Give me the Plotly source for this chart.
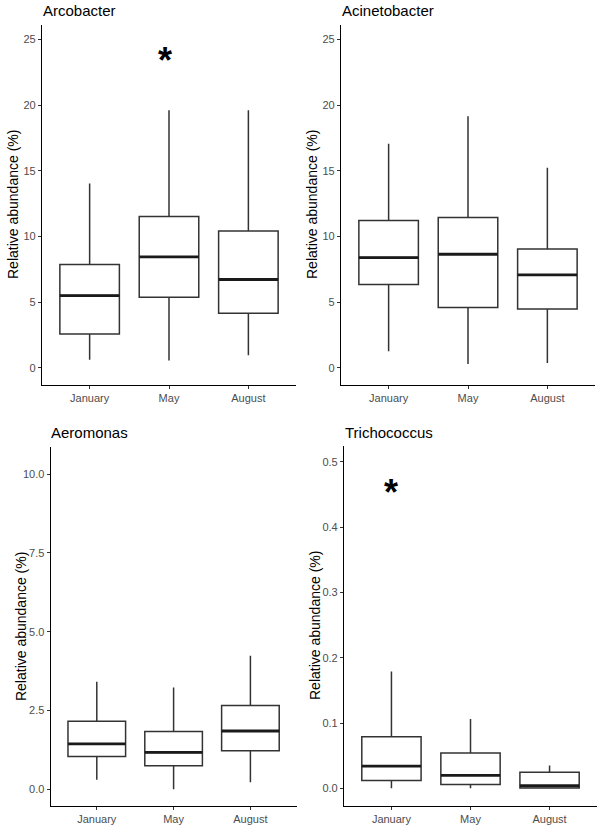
import plotly.graph_objects as go

W, H = 601, 825

months = ["January", "May", "August"]

# Arcobacter
arco_low = [0.63, 0.56, 0.96]
arco_q1 = [2.59, 5.38, 4.16]
arco_med = [5.51, 8.45, 6.73]
arco_q3 = [7.87, 11.52, 10.43]
arco_high = [14.04, 19.62, 19.62]

# Acinetobacter
acin_low = [1.27, 0.30, 0.38]
acin_q1 = [6.35, 4.59, 4.49]
acin_med = [8.40, 8.65, 7.08]
acin_q3 = [11.22, 11.45, 9.06]
acin_high = [17.06, 19.16, 15.23]

# Aeromonas
aero_low = [0.30, 0.00, 0.22]
aero_q1 = [1.04, 0.75, 1.22]
aero_med = [1.44, 1.17, 1.85]
aero_q3 = [2.16, 1.83, 2.66]
aero_high = [3.41, 3.23, 4.24]

# Trichococcus
tric_low = [0.000, 0.000, 0.000]
tric_q1 = [0.012, 0.006, 0.0005]
tric_med = [0.034, 0.020, 0.004]
tric_q3 = [0.079, 0.054, 0.0245]
tric_high = [0.179, 0.106, 0.035]

# significance markers (category position, y value)
arco_star = (0.95, 23.8)
tric_star = (0.0, 0.461)

panels = [
    dict(name="Arcobacter", low=arco_low, q1=arco_q1, med=arco_med, q3=arco_q3, high=arco_high,
         px=(42, 296), py=(25, 385), yr=[-1.3, 26.1], tv=[0, 5, 10, 15, 20, 25],
         tt=["0", "5", "10", "15", "20", "25"], star=arco_star),
    dict(name="Acinetobacter", low=acin_low, q1=acin_q1, med=acin_med, q3=acin_q3, high=acin_high,
         px=(341, 595), py=(25, 385), yr=[-1.3, 26.1], tv=[0, 5, 10, 15, 20, 25],
         tt=["0", "5", "10", "15", "20", "25"], star=None),
    dict(name="Aeromonas", low=aero_low, q1=aero_q1, med=aero_med, q3=aero_q3, high=aero_high,
         px=(50.7, 296.5), py=(446.7, 806), yr=[-0.53, 10.87], tv=[0, 2.5, 5, 7.5, 10],
         tt=["0.0", "2.5", "5.0", "7.5", "10.0"], star=None),
    dict(name="Trichococcus", low=tric_low, q1=tric_q1, med=tric_med, q3=tric_q3, high=tric_high,
         px=(344, 597), py=(446, 806), yr=[-0.027, 0.524], tv=[0, 0.1, 0.2, 0.3, 0.4, 0.5],
         tt=["0.0", "0.1", "0.2", "0.3", "0.4", "0.5"], star=tric_star),
]

FONT = "Arial, Liberation Sans, sans-serif"
BOXW = 0.75
fig = go.Figure()
annotations = []
layout = {}

for k, p in enumerate(panels):
    n = "" if k == 0 else str(k + 1)
    xa, ya = "x" + n, "y" + n
    xs = list(range(len(months)))
    fig.add_trace(go.Box(
        x=xs, q1=p["q1"], median=p["med"], q3=p["q3"],
        lowerfence=p["low"], upperfence=p["high"],
        width=BOXW, whiskerwidth=0, fillcolor="white",
        line=dict(color="#333333", width=1.5), boxpoints=False,
        xaxis=xa, yaxis=ya, showlegend=False, hoverinfo="skip"))
    mx, my = [], []
    for i, m in enumerate(p["med"]):
        mx += [i - BOXW / 2, i + BOXW / 2, None]
        my += [m, m, None]
    fig.add_trace(go.Scatter(x=mx, y=my, mode="lines",
                             line=dict(color="#1a1a1a", width=2.8),
                             xaxis=xa, yaxis=ya, showlegend=False, hoverinfo="skip"))
    x0, x1 = p["px"]
    y0, y1 = p["py"]
    axis_common = dict(showline=True, linecolor="black", linewidth=1.2, showgrid=False,
                       zeroline=False, ticks="outside", ticklen=3, tickwidth=1,
                       tickcolor="#333333", automargin=False,
                       tickfont=dict(family=FONT, size=11, color="#4D4D4D"))
    layout["xaxis" + n] = dict(domain=[x0 / W, x1 / W], anchor=ya, range=[-0.6, 2.6],
                               tickmode="array", tickvals=xs, ticktext=months, **axis_common)
    layout["yaxis" + n] = dict(domain=[1 - y1 / H, 1 - y0 / H], anchor=xa, range=p["yr"],
                               tickmode="array", tickvals=p["tv"], ticktext=p["tt"], **axis_common)
    # panel title
    annotations.append(dict(text=p["name"], xref="paper", yref="paper",
                            x=(x0 - 1.5) / W, y=1 - (y0 - 14) / H, xanchor="left", yanchor="middle",
                            showarrow=False, font=dict(family=FONT, size=15, color="black")))
    # y axis title
    annotations.append(dict(text="Relative abundance (%)", xref="paper", yref="paper",
                            x=(x0 - 29) / W, y=1 - (y0 + y1) / 2 / H, xanchor="center", yanchor="middle",
                            textangle=-90, showarrow=False,
                            font=dict(family=FONT, size=14, color="black")))
    if p["star"] is not None:
        si, sv = p["star"]
        annotations.append(dict(text="<b>*</b>", xref=xa, yref=ya, x=si, y=sv,
                                xanchor="center", yanchor="middle", yshift=-5.5, showarrow=False,
                                font=dict(family=FONT, size=36, color="black")))

fig.update_layout(width=W, height=H, margin=dict(l=0, r=0, t=0, b=0, autoexpand=False),
                  paper_bgcolor="white", plot_bgcolor="white",
                  annotations=annotations, **layout)
fig.write_html("out.html", config={"displayModeBar": False},
               post_script="document.body.style.margin='0';document.body.style.overflow='hidden';")
